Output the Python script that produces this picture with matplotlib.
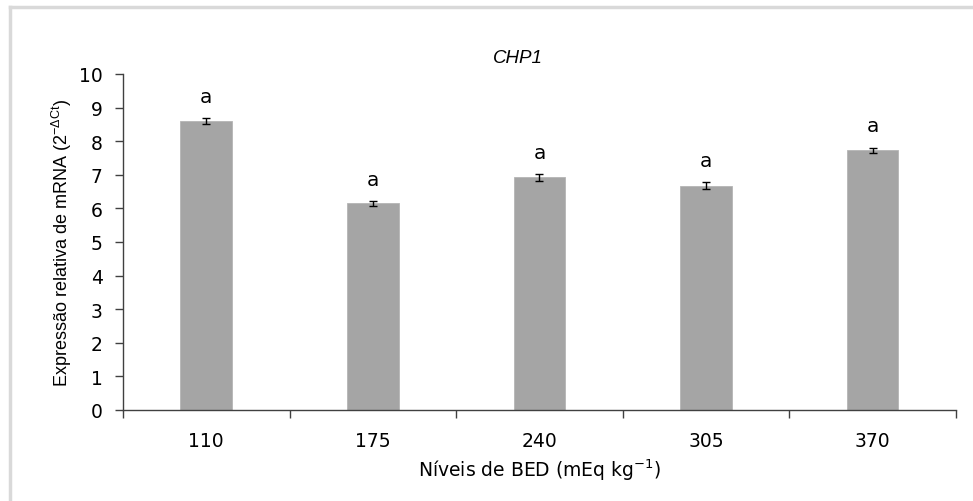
import numpy as np
import matplotlib
matplotlib.use('Agg')
import matplotlib.pyplot as plt
from matplotlib.lines import Line2D

# dados
niveis = ['110', '175', '240', '305', '370']
expressao = [8.60, 6.15, 6.92, 6.68, 7.73]
erro = [0.10, 0.08, 0.10, 0.10, 0.08]
letras = ['a', 'a', 'a', 'a', 'a']

plt.rcParams['mathtext.default'] = 'regular'

fig = plt.figure(figsize=(9.73, 5.02), dpi=100)
ax = fig.add_axes([0.1264, 0.1813, 0.8561, 0.6693])

# borda clara do quadro do gráfico
fig.add_artist(Line2D([9.5 / 973, 9.5 / 973], [0, 1 - 7.5 / 502],
                      transform=fig.transFigure, color='#d9d9d9', lw=2.5))
fig.add_artist(Line2D([9.5 / 973, 1], [1 - 7.5 / 502, 1 - 7.5 / 502],
                      transform=fig.transFigure, color='#d9d9d9', lw=2.5))

x = np.arange(len(niveis))
ax.bar(x, expressao, width=0.31, color='#a5a5a5', edgecolor='#b5b5b5', lw=0.6, zorder=2)
ax.errorbar(x, expressao, yerr=erro, fmt='none', ecolor='black', elinewidth=1,
            capsize=3, capthick=1, zorder=3)

for xi, v, e, l in zip(x, expressao, erro, letras):
    ax.text(xi, v + e + 0.36, l, ha='center', va='bottom', fontsize=14.5, family='DejaVu Sans')

ax.set_xlim(-0.5, len(niveis) - 0.5)
ax.set_ylim(0, 10)
ax.set_yticks(range(0, 11))
ax.set_xticks(x)
ax.set_xticklabels(niveis)
ax.set_xticks(np.arange(-0.5, len(niveis)), minor=True)
ax.tick_params(axis='x', which='major', length=0, pad=15, labelsize=13.5)
ax.tick_params(axis='x', which='minor', length=5.5, width=1, color='#404040', direction='out')
ax.tick_params(axis='y', length=5.5, width=1, color='#404040', labelsize=13.5, pad=9)

for s in ['top', 'right']:
    ax.spines[s].set_visible(False)
for s in ['left', 'bottom']:
    ax.spines[s].set_color('#404040')
    ax.spines[s].set_linewidth(1)

ax.text(0.474, 1.025, 'CHP1', style='italic', fontsize=13.5, family='Liberation Sans',
        ha='center', va='bottom', transform=ax.transAxes)
ax.set_ylabel('Expressão relativa de mRNA (2$^{-\\Delta Ct}$)', family='Liberation Sans',
              fontsize=13, labelpad=4)
ax.set_xlabel('Níveis de BED (mEq kg$^{-1}$)', fontsize=13.5, labelpad=5)

fig.savefig('out.png', dpi=100)
